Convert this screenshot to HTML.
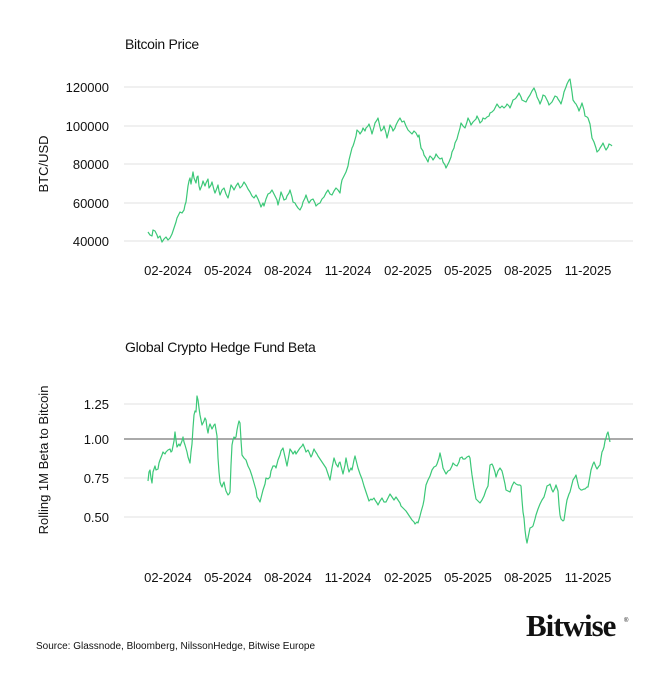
<!DOCTYPE html>
<html><head><meta charset="utf-8"><style>
body{margin:0;background:#fff;}
svg text{font-family:"Liberation Sans",sans-serif;fill:#111;}
</style></head><body>
<svg width="670" height="670" viewBox="0 0 670 670" xmlns="http://www.w3.org/2000/svg">
<rect width="670" height="670" fill="#fff"/>
<text x="125" y="49" font-size="14" letter-spacing="-0.3">Bitcoin Price</text>
<g stroke="#e6e6e6" stroke-width="1.3">
<line x1="124" x2="633" y1="87" y2="87"/><line x1="124" x2="633" y1="126" y2="126"/>
<line x1="124" x2="633" y1="164" y2="164"/><line x1="124" x2="633" y1="203" y2="203"/>
<line x1="124" x2="633" y1="241" y2="241"/>
</g>
<g font-size="13" text-anchor="end">
<text x="109" y="92">120000</text><text x="109" y="131">100000</text>
<text x="109" y="169">80000</text><text x="109" y="208">60000</text><text x="109" y="246">40000</text>
</g>
<text transform="translate(48,164) rotate(-90)" font-size="13" text-anchor="middle">BTC/USD</text>
<g font-size="13" text-anchor="middle">
<text x="168" y="275">02-2024</text><text x="228" y="275">05-2024</text><text x="288" y="275">08-2024</text>
<text x="348" y="275">11-2024</text><text x="408" y="275">02-2025</text><text x="468" y="275">05-2025</text>
<text x="528" y="275">08-2025</text><text x="588" y="275">11-2025</text>
</g>
<polyline fill="none" stroke="#3cc878" stroke-width="1.2" stroke-linejoin="round" points="148,232 150,235 152,236 153,230 155,231 157,235 158,238 160,236 162,242 164,239 166,237 168,240 170,238 172,234 174,228 176,222 177,218 179,214 180,212 182,213 184,210 185,205 186,202 187,194 188,186 189,181 190,178 191,184 193,172 194,178 196,183 197,177 198,176 199,186 200,190 202,185 203,181 205,186 206,183 208,179 209,188 211,185 212,182 214,190 215,193 217,188 218,185 219,191 220,195 222,190 224,188 226,194 228,198 230,190 231,185 233,188 234,190 236,186 238,183 240,188 242,186 244,182 246,185 248,189 250,192 252,196 254,198 256,195 258,199 260,204 261,207 263,203 264,206 266,199 268,194 270,193 272,190 274,194 275,196 277,200 278,205 280,197 281,192 283,197 284,200 286,199 287,196 289,193 290,190 292,197 293,202 295,203 296,205 298,208 300,210 302,206 303,202 305,198 306,195 308,201 309,203 311,200 313,199 315,203 316,206 318,204 320,203 322,199 324,197 326,193 328,190 330,194 332,195 334,191 336,188 338,190 340,193 341,185 342,180 344,176 346,172 348,166 349,160 351,152 352,148 353,146 354,143 356,136 357,130 359,132 360,134 362,131 363,128 365,131 366,128 368,126 369,124 371,130 372,134 374,127 375,123 377,120 378,118 380,127 381,131 383,129 384,126 386,133 387,138 389,130 390,125 392,128 393,131 395,128 396,125 398,121 400,118 402,122 404,121 406,126 408,130 410,132 412,134 414,131 416,133 418,137 419,135 420,142 421,148 423,151 424,155 426,158 428,162 429,158 430,156 432,158 433,160 435,157 436,154 438,157 440,159 442,158 443,162 445,165 446,168 448,164 449,162 451,157 452,152 454,148 455,143 457,139 458,135 460,128 461,123 463,126 465,128 467,122 468,118 470,122 471,125 473,122 474,121 476,119 477,116 479,120 480,123 482,121 483,118 485,119 487,117 489,116 490,113 492,112 494,110 496,106 497,104 499,107 500,108 502,106 504,108 506,106 507,104 509,106 510,108 512,103 513,100 515,99 516,98 518,95 519,93 521,97 522,100 524,101 526,102 528,98 530,95 532,91 534,88 536,93 537,97 539,101 540,104 542,99 543,95 545,96 546,98 548,102 549,105 551,103 552,102 554,98 555,96 557,97 558,99 560,102 561,104 563,97 564,92 566,87 567,84 569,80 570,79 572,92 573,100 575,103 576,104 578,108 579,111 581,106 582,103 584,110 585,116 587,117 588,118 589,121 590,124 591,131 592,138 593,140 594,142 596,148 597,152 599,150 600,148 602,145 603,143 605,148 606,150 608,147 609,144 611,145 612,146"/>

<text x="125" y="352" font-size="14" letter-spacing="-0.3">Global Crypto Hedge Fund Beta</text>
<g stroke="#e6e6e6" stroke-width="1.3">
<line x1="124" x2="633" y1="404" y2="404"/><line x1="124" x2="633" y1="478" y2="478"/>
<line x1="124" x2="633" y1="517" y2="517"/>
</g>
<line x1="124" x2="633" y1="439" y2="439" stroke="#555" stroke-width="1"/>
<g font-size="13" text-anchor="end">
<text x="109" y="409">1.25</text><text x="109" y="444">1.00</text>
<text x="109" y="483">0.75</text><text x="109" y="522">0.50</text>
</g>
<text transform="translate(48,460) rotate(-90)" font-size="13" text-anchor="middle">Rolling 1M Beta to Bitcoin</text>
<g font-size="13" text-anchor="middle">
<text x="168" y="582">02-2024</text><text x="228" y="582">05-2024</text><text x="288" y="582">08-2024</text>
<text x="348" y="582">11-2024</text><text x="408" y="582">02-2025</text><text x="468" y="582">05-2025</text>
<text x="528" y="582">08-2025</text><text x="588" y="582">11-2025</text>
</g>
<polyline fill="none" stroke="#3cc878" stroke-width="1.2" stroke-linejoin="round" points="148,481 149,472 150,470 151,478 152,483 153,472 155,466 156,470 158,469 159,463 160,460 162,455 163,452 165,454 166,452 168,450 170,449 171,452 172,451 173,446 174,441 175,432 176,440 177,447 179,444 180,446 182,441 183,437 184,442 185,445 187,452 188,457 189,460 190,463 191,452 192,444 193,428 194,415 195,411 196,412 197,396 198,400 199,408 200,415 201,420 202,425 203,423 204,421 205,418 206,420 207,428 208,433 209,427 210,424 212,429 213,427 214,425 215,424 216,430 217,436 218,458 219,472 220,482 221,485 222,487 223,484 224,482 225,487 226,491 227,493 228,495 229,494 230,492 231,465 232,445 233,440 234,437 235,438 236,437 237,430 238,425 239,421 240,423 241,440 242,455 244,458 246,460 248,466 250,470 252,476 254,483 256,490 257,497 259,500 260,502 262,494 263,490 265,484 266,478 268,479 270,477 271,471 273,466 275,466 276,468 278,460 280,455 281,451 283,448 285,457 287,466 289,455 290,449 292,452 293,454 295,451 296,454 298,451 300,448 302,446 303,444 305,449 306,452 308,450 309,452 311,457 312,455 314,449 315,451 317,454 318,456 320,459 322,462 324,465 326,468 328,474 330,480 332,468 334,458 336,464 338,467 339,463 340,462 342,470 343,474 345,465 346,458 348,468 349,472 351,468 352,470 354,460 355,456 357,464 358,468 360,474 362,479 364,486 366,492 368,498 369,501 371,499 372,500 374,498 375,500 377,503 378,505 380,501 382,498 384,502 386,502 388,498 390,494 392,497 394,500 396,497 398,500 400,503 401,506 403,508 404,509 406,511 408,514 410,517 412,520 414,522 415,524 417,522 418,523 420,516 421,512 423,505 424,500 425,492 426,485 428,480 430,476 432,470 434,467 436,466 437,464 439,458 440,453 442,462 443,468 445,472 446,474 448,471 450,470 452,466 453,463 455,465 457,466 459,462 460,458 462,457 463,459 465,459 467,457 469,456 470,458 471,467 472,475 474,488 476,499 478,501 480,503 482,500 484,496 486,490 488,486 489,475 490,465 492,464 493,466 495,472 496,477 498,471 500,468 502,471 503,475 505,484 506,490 508,491 510,492 512,486 514,482 516,484 518,485 520,485 521,486 522,500 523,512 524,518 525,530 526,538 527,543 529,533 530,528 532,527 533,526 535,519 536,515 538,509 540,504 542,500 544,497 546,490 547,486 549,485 550,484 552,490 553,492 555,488 556,485 557,488 558,491 559,505 560,515 561,519 563,521 564,520 566,506 567,500 569,494 570,492 572,484 573,480 575,477 576,475 578,484 579,488 581,490 582,490 584,489 585,489 587,487 588,487 590,476 591,470 593,464 594,462 596,467 597,469 599,466 600,465 601,458 602,452 603,450 604,447 605,441 606,438 607,434 608,432 609,437 610,442"/>

<text x="526" y="636" font-size="31" font-weight="bold" letter-spacing="-1" style="font-family:'Liberation Serif',serif">Bitwise</text>
<text x="624" y="622" font-size="6">®</text>
<text x="36" y="649" font-size="10">Source: Glassnode, Bloomberg, NilssonHedge, Bitwise Europe</text>
</svg>
</body></html>
